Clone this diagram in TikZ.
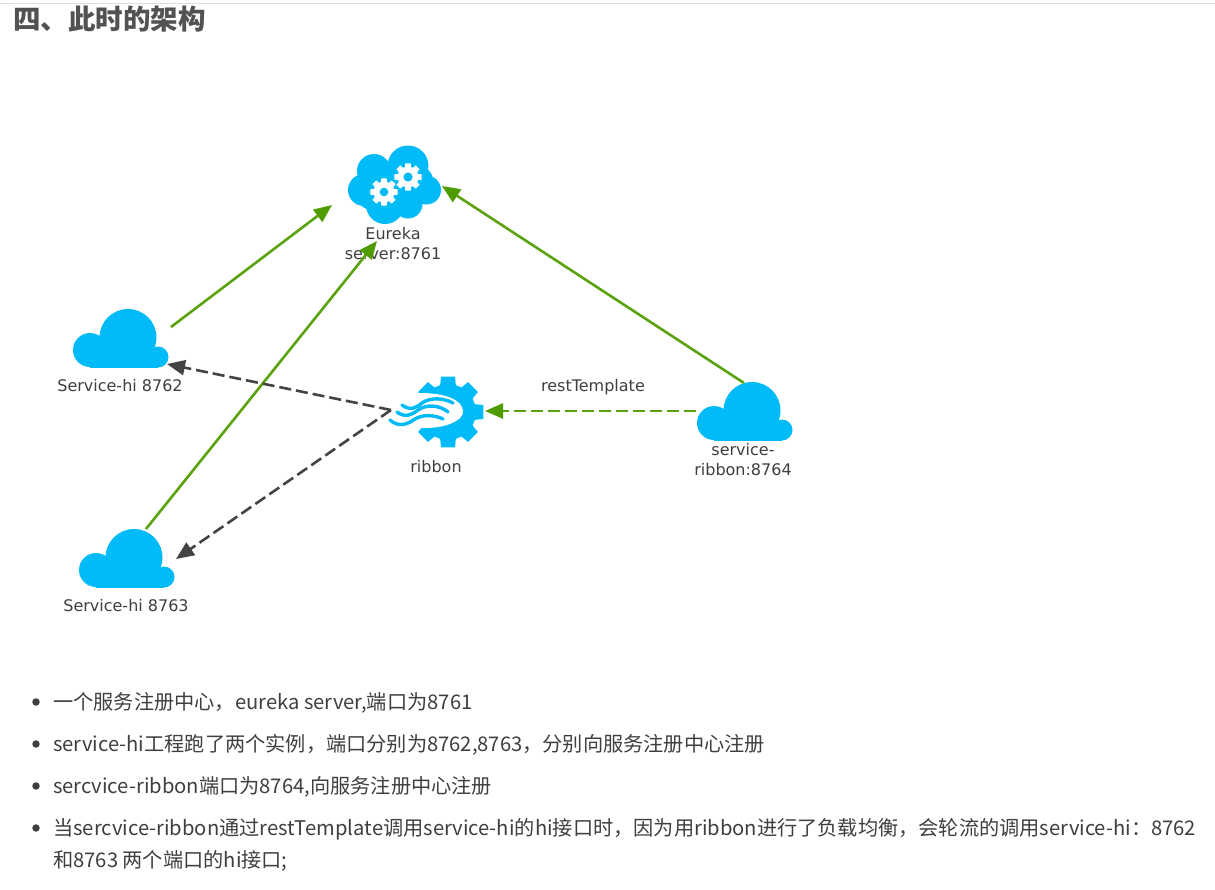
\documentclass[tikz,border=0pt]{standalone}
\usepackage{fontspec}
\setmainfont{Noto Sans CJK SC}
\newfontfamily\lblfont{DejaVu Sans}
\usetikzlibrary{arrows.meta}
\definecolor{skyb}{HTML}{00BBF8}
\definecolor{grn}{HTML}{5AA30F}
\definecolor{grnh}{HTML}{4F9C00}
\definecolor{dk}{HTML}{444444}
\definecolor{txt}{HTML}{3F3F3F}
\newcommand{\gearfill}[6]{% x y R r teeth colour
  \fill[#6] ({#1+#4*cos(-180/#5*0.72)},{#2+#4*sin(-180/#5*0.72)})
  \foreach \k in {1,...,#5}{
    -- ({#1+#3*cos(360/#5*\k-360/#5-180/#5*0.5)},{#2+#3*sin(360/#5*\k-360/#5-180/#5*0.5)})
    -- ({#1+#3*cos(360/#5*\k-360/#5+180/#5*0.5)},{#2+#3*sin(360/#5*\k-360/#5+180/#5*0.5)})
    -- ({#1+#4*cos(360/#5*\k-360/#5+180/#5*0.72)},{#2+#4*sin(360/#5*\k-360/#5+180/#5*0.72)})
    -- ({#1+#4*cos(360/#5*\k-180/#5*0.72)},{#2+#4*sin(360/#5*\k-180/#5*0.72)})
  } -- cycle;}
\tikzset{
  x=1pt,y=-1pt,
  cloudicon/.pic={
    \fill[skyb] (-30,5) circle (17) (8,-7.5) circle (28.5) (38,12) circle (10.5);
    \fill[skyb] (-30,5) rectangle (38,22.5);
  },
  lbl/.style={font=\lblfont\fontsize{16}{20}\selectfont,text=txt,align=center,inner sep=0pt},
  body/.style={font=\fontsize{20.2}{24}\selectfont,text=txt,anchor=west,inner sep=0pt},
  bul/.style={circle,fill=txt,inner sep=0pt,minimum size=7.5pt},
  wave/.style={draw=skyb,line width=3.4pt,line cap=round},
  gline/.style={draw=grn,line width=2.6pt,-{Triangle[length=18pt,width=15pt,color=grnh]}},
  gdash/.style={gline,dash pattern=on 12pt off 5pt},
  kdash/.style={draw=dk,line width=2.6pt,dash pattern=on 12pt off 5pt,-{Triangle[length=18pt,width=15pt,color=dk]}}
}
\begin{document}
\begin{tikzpicture}
\useasboundingbox (0,0) rectangle (1215,889);
\fill[white] (0,0) rectangle (1215,889);
\draw[draw=black!13,line width=1pt] (0,3) -- (1215,3);
\node[anchor=west,inner sep=0pt,font=\bfseries\fontsize{27.5}{30}\selectfont,text=txt!90] (title) at (13,19) {四、此时的架构};

% Eureka icon
\fill[skyb] (374,171) circle (17) (408,166) circle (20.5) (364,190) circle (16) (426.5,190) circle (14.5) (385,205) circle (19) (408,204) circle (14.5) (395,185) circle (25) (420,180) circle (13) (372,195) circle (15);
\gearfill{384}{192}{14}{10.5}{8}{white}
\fill[skyb] (384,192) circle (4.3);
\gearfill{408}{177}{14}{10.5}{8}{white}
\fill[skyb] (408,177) circle (4.6);

% clouds
\pic at (120,345) {cloudicon};
\pic at (126,565) {cloudicon};
\pic at (744,418) {cloudicon};

% ribbon icon
\gearfill{448}{412}{36}{28}{8}{skyb}
\fill[white] (405,397) -- (420,393) .. controls (437,393) and (453,396) .. (460,404)
  .. controls (466,412) and (462,418) .. (456,421)
  .. controls (448,426) and (436,428) .. (424,428) -- (385,430) -- (385,397) -- cycle;
\draw[wave] (402,405) .. controls (410,411) and (416,408) .. (422,403) .. controls (430,397) and (444,398) .. (453,403);
\draw[wave] (397,412) .. controls (405,418) and (412,415) .. (418,410) .. controls (426,404) and (440,405) .. (448,412);
\draw[wave] (390,420) .. controls (399,428) and (408,424) .. (415,419) .. controls (423,414) and (435,415) .. (443,419);

% labels
\node[lbl] (leureka) at (393,244) {Eureka\\server:8761};
\node[lbl] (lhi1) at (120,386) {Service-hi 8762};
\node[lbl] (lhi2) at (126,606) {Service-hi 8763};
\node[lbl] (lribbon) at (436,467) {ribbon};
\node[lbl] (lrib) at (743,460) {service-\\ribbon:8764};
\node[lbl] (lrest) at (593,387) {restTemplate};

% connector ends
\coordinate (h1out) at (171,327);
\coordinate (eul) at (332,205);
\coordinate (h2out) at (146,529);
\coordinate (eub) at (377,241);
\coordinate (srout) at (744,383);
\coordinate (eur) at (442,186);
\coordinate (srleft) at (696,411);
\coordinate (ribr) at (485,411);
\coordinate (ribl) at (391,410);
\coordinate (h1in) at (167,364);
\coordinate (h2in) at (176,559);

\draw[gline] (h1out) -- (eul);
\draw[gline] (h2out) -- (eub);
\draw[gline] (srout) -- (eur);
\draw[gdash] (srleft) -- (ribr);
\draw[kdash] (ribl) -- (h1in);
\draw[kdash] (ribl) -- (h2in);

% list
\node[bul] (b1) at (36,702) {};
\node[bul] (b2) at (36,744) {};
\node[bul] (b3) at (36,786) {};
\node[bul] (b4) at (36,828) {};
\node[body] (t1) at (53,703) {一个服务注册中心，eureka server,端口为8761};
\node[body] (t2) at (53,745) {service-hi工程跑了两个实例，端口分别为8762,8763，分别向服务注册中心注册};
\node[body] (t3) at (53,787) {sercvice-ribbon端口为8764,向服务注册中心注册};
\node[body] (t4) at (53,829) {当sercvice-ribbon通过restTemplate调用service-hi的hi接口时，因为用ribbon进行了负载均衡，会轮流的调用service-hi：8762};
\node[body] (t5) at (53,861) {和8763 两个端口的hi接口;};
\end{tikzpicture}
\end{document}
